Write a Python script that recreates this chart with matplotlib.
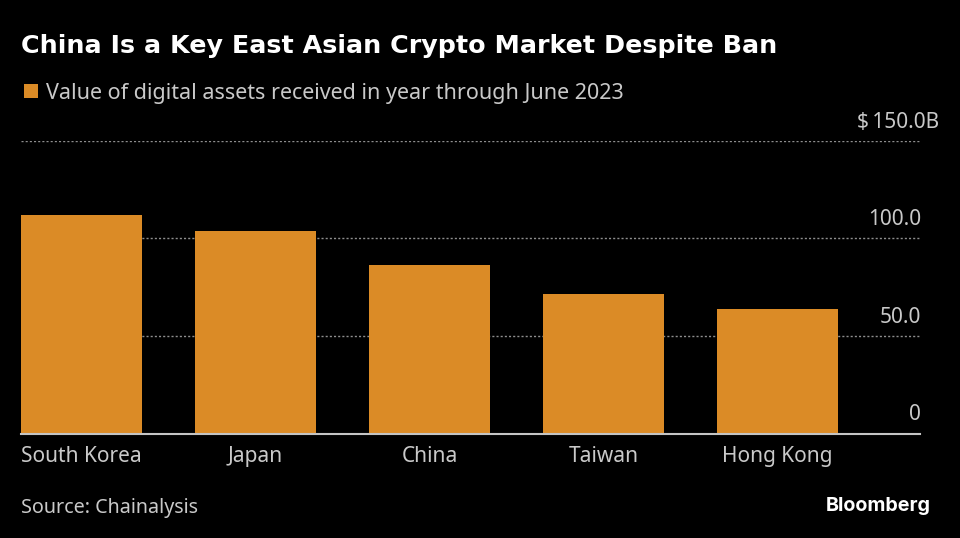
import matplotlib
matplotlib.use("Agg")
import matplotlib.pyplot as plt
from matplotlib.patches import Rectangle

categories = ["South Korea", "Japan", "China", "Taiwan", "Hong Kong"]
values = [112, 104, 86.6, 71.5, 64]
tick_values = [0, 50, 100]
tick_labels = ["0", "50.0", "100.0"]
top_value = 150
top_label = "$\u2009150.0B"

W, H = 960, 538
BG = "#000000"
ORANGE = "#DB8B26"
GREY = "#C9C9C9"
BODY = "Noto Sans"

plt.rcParams["font.family"] = ["DejaVu Sans"]
fig = plt.figure(figsize=(W / 100, H / 100), dpi=100, facecolor=BG)
ax = fig.add_axes([21 / W, 1 - 433.5 / H, (920 - 21) / W, (433.5 - 141) / H], facecolor=BG)

x = list(range(len(categories)))
ax.bar(x, values, width=121 / 174, color=ORANGE, zorder=2)
ax.set_xlim(-60.5 / 174, (920 - 81.5) / 174)
ax.set_ylim(0, 150)

for v in tick_values[1:] + [top_value]:
    ax.axhline(v, color="#8E8E8E", lw=1, ls=(0, (1.5, 1.5)), zorder=1)

for s in ["top", "left", "right"]:
    ax.spines[s].set_visible(False)
ax.spines["bottom"].set_color("#C4C4C4")
ax.spines["bottom"].set_linewidth(1.5)
ax.spines["bottom"].set_zorder(3)

ax.set_xticks(x)
ax.set_xticklabels(categories, fontsize=15, color=GREY, family=BODY)
ax.tick_params(axis="x", length=0, pad=9)
ax.set_yticks([])

for v, lab in zip(tick_values, tick_labels):
    ax.annotate(lab, xy=(1, v), xycoords=("axes fraction", "data"), xytext=(1, 18.5),
                textcoords="offset pixels", ha="right", va="center", fontsize=15, color=GREY, family=BODY)
ax.annotate(top_label, xy=(1, top_value), xycoords=("axes fraction", "data"), xytext=(19, 19),
            textcoords="offset pixels", ha="right", va="center", fontsize=15, color=GREY, family=BODY)

fig.text(21 / W, 1 - 46 / H, "China Is a Key East Asian Crypto Market Despite Ban",
         fontsize=18.25, fontweight="bold", color="white", ha="left", va="center")
fig.patches.append(Rectangle((24 / W, 1 - 98 / H), 14 / W, 14 / H, transform=fig.transFigure,
                             facecolor=ORANGE, edgecolor="none", figure=fig))
fig.text(46 / W, 1 - 93 / H, "Value of digital assets received in year through June 2023",
         fontsize=15.5, color=GREY, ha="left", va="center", family=BODY)
fig.text(21 / W, 1 - 508.5 / H, "Source: Chainalysis", fontsize=14.2, color=GREY, ha="left", va="center", family=BODY)
fig.text(931 / W, 1 - 506 / H, "Bloomberg", fontsize=14.2, fontweight="bold", color="white",
         ha="right", va="center", family="Inter")

fig.savefig("out.png", dpi=100, facecolor=BG)
